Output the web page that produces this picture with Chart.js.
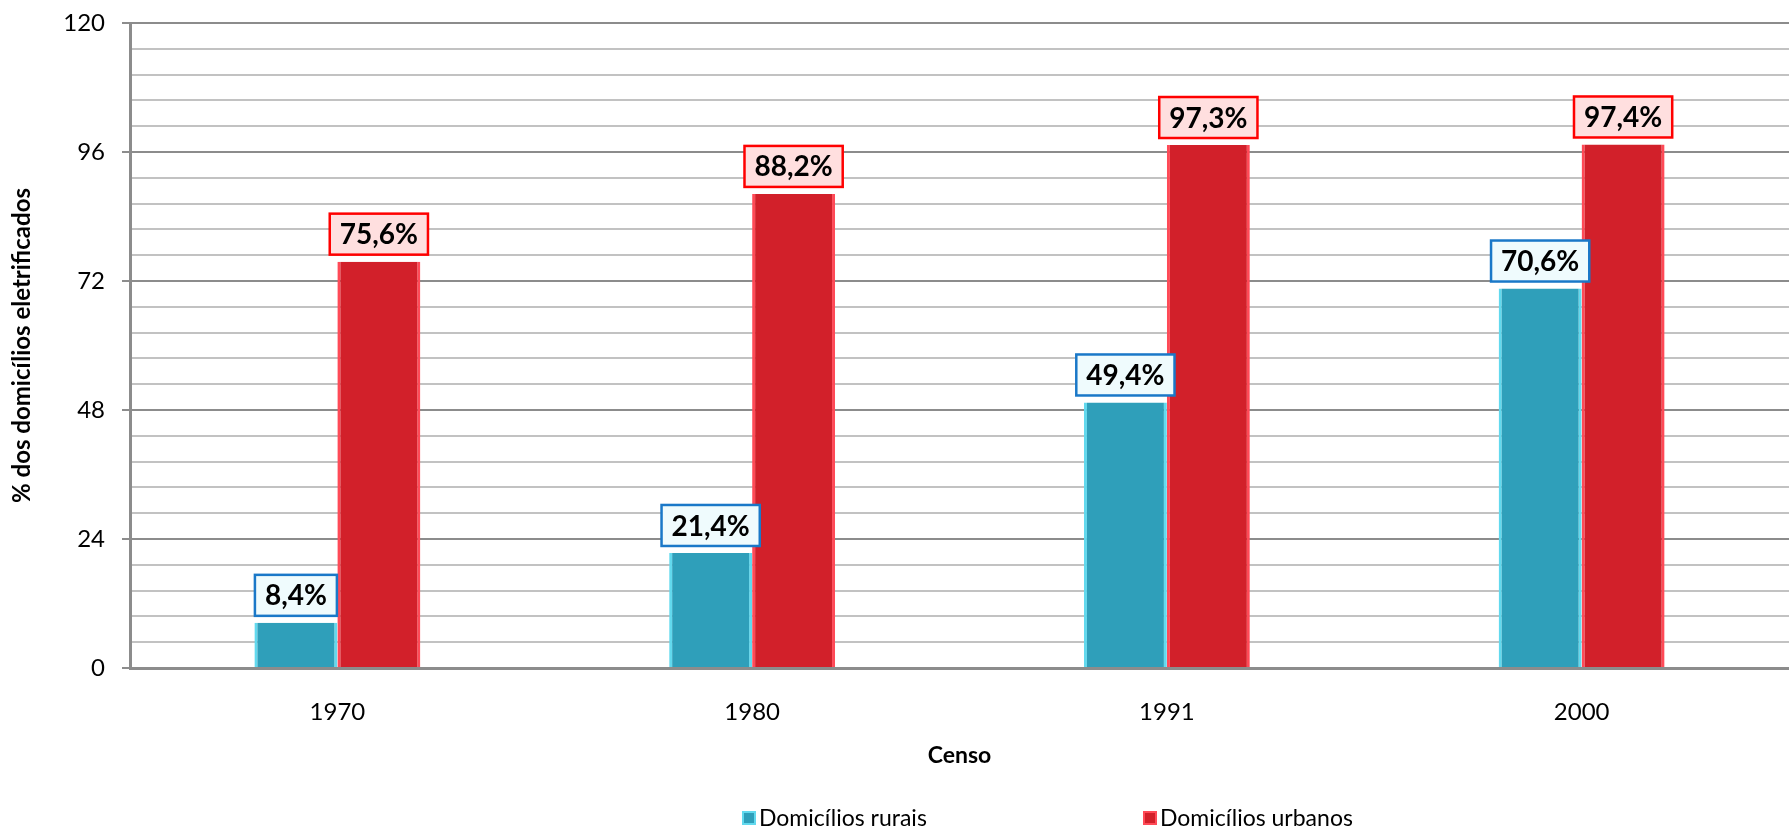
<!DOCTYPE html>
<html>
<head>
<meta charset="utf-8">
<script src="https://cdn.jsdelivr.net/npm/chart.js@4"></script>
<style>
    body { margin: 0; background: #fff; }
    #wrap { width: 1789px; height: 831px; position: relative; }
</style>
</head>
<body>
<div id="wrap"><canvas id="censoChart"></canvas></div>
<script>
// Chart data
const censos = ['1970', '1980', '1991', '2000'];
const rurais = [8.4, 21.4, 49.4, 70.6];
const urbanos = [75.6, 88.2, 97.3, 97.4];
const yTicks = [0, 24, 48, 72, 96, 120];

const FONT = 'Lato, "Open Sans", sans-serif';

function isMajor(v) {
    return yTicks.some(t => Math.abs(t - v) < 1e-6);
}

// Boxed value labels above each bar
const boxLabels = {
    id: 'boxLabels',
    afterDatasetsDraw(chart) {
        const ctx = chart.ctx;
        ctx.save();
        ctx.font = 'bold 28px ' + FONT;
        ctx.textAlign = 'center';
        ctx.textBaseline = 'middle';
        chart.data.datasets.forEach((ds, i) => {
            const meta = chart.getDatasetMeta(i);
            meta.data.forEach((bar, j) => {
                const txt = ds.data[j].toFixed(1).replace('.', ',') + '%';
                const w = ctx.measureText(txt).width + 20;
                const h = 41;
                const x = bar.x - w / 2;
                const y = bar.y - 7 - h;
                ctx.fillStyle = ds.boxFill;
                ctx.fillRect(x, y, w, h);
                ctx.lineWidth = 2.5;
                ctx.strokeStyle = ds.boxStroke;
                ctx.strokeRect(x, y, w, h);
                ctx.fillStyle = '#000';
                ctx.fillText(txt, bar.x, y + h / 2 + 1);
            });
        });
        ctx.restore();
    }
};

// Legend drawn by hand so the spacing can match
const bottomLegend = {
    id: 'bottomLegend',
    afterDraw(chart) {
        const ctx = chart.ctx;
        const spots = [742, 1143];
        ctx.save();
        ctx.font = '23px ' + FONT;
        ctx.textBaseline = 'middle';
        chart.data.datasets.forEach((ds, i) => {
            const x = spots[i];
            const y = 818;
            ctx.fillStyle = ds.borderColor;
            ctx.fillRect(x, y - 7, 14, 14);
            ctx.fillStyle = ds.backgroundColor;
            ctx.fillRect(x + 2, y - 5, 10, 10);
            ctx.fillStyle = '#000';
            ctx.fillText(ds.label, x + 17, y + 1);
        });
        ctx.restore();
    }
};

const ctx = document.getElementById('censoChart').getContext('2d');
new Chart(ctx, {
    type: 'bar',
    data: {
        labels: censos,
        datasets: [
            {
                label: 'Domicílios rurais',
                data: rurais,
                backgroundColor: '#2f9fba',
                borderColor: '#62d9ee',
                borderWidth: { left: 3, right: 3, top: 0, bottom: 0 },
                borderSkipped: false,
                boxFill: '#effbfd',
                boxStroke: '#1a78c8',
                categoryPercentage: 0.4,
                barPercentage: 1.0
            },
            {
                label: 'Domicílios urbanos',
                data: urbanos,
                backgroundColor: '#d2202a',
                borderColor: '#ff4a57',
                borderWidth: { left: 3, right: 3, top: 0, bottom: 0 },
                borderSkipped: false,
                boxFill: '#ffdfdf',
                boxStroke: '#ff0000',
                categoryPercentage: 0.4,
                barPercentage: 1.0
            }
        ]
    },
    options: {
        responsive: true,
        maintainAspectRatio: false,
        animation: false,
        layout: { padding: { top: 23, right: 0, left: 0, bottom: 0 } },
        plugins: {
            legend: { display: false },
            tooltip: { enabled: false }
        },
        scales: {
            x: {
                grid: { display: false },
                border: { display: true, color: '#8c8c8c', width: 3 },
                ticks: {
                    color: '#000',
                    padding: 22,
                    font: { family: FONT, size: 24 }
                },
                title: {
                    display: true,
                    text: 'Censo',
                    color: '#000',
                    font: { family: FONT, size: 23, weight: 'bold' },
                    padding: { top: 0, bottom: 62 }
                },
                afterFit: function(scale) {
                    scale.height = 163;
                    scale.paddingLeft = 0;
                    scale.paddingRight = 0;
                }
            },
            y: {
                min: 0,
                max: 120,
                ticks: {
                    stepSize: 4.8,
                    color: '#000',
                    padding: 17,
                    autoSkip: false,
                    font: { family: FONT, size: 24 },
                    callback: function(value) {
                        return isMajor(value) ? String(Math.round(value)) : '';
                    }
                },
                grid: {
                    color: c => isMajor(c.tick.value) ? '#8c8c8c' : '#c2c2c2',
                    tickColor: c => isMajor(c.tick.value) ? '#8c8c8c' : 'rgba(0,0,0,0)',
                    lineWidth: 2,
                    tickLength: 8
                },
                border: { display: true, color: '#8c8c8c', width: 3 },
                title: {
                    display: true,
                    text: '% dos domicílios eletrificados',
                    color: '#000',
                    font: { family: FONT, size: 24, weight: 'bold' },
                    padding: { top: 8, bottom: 0 }
                },
                afterFit: function(scale) {
                    scale.width = 130;
                    scale.paddingTop = 0;
                    scale.paddingBottom = 0;
                }
            }
        }
    },
    plugins: [boxLabels, bottomLegend]
});
</script>
</body>
</html>
